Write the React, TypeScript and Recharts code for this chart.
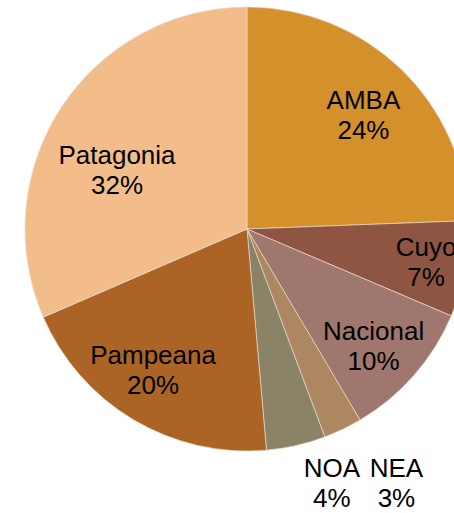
import React from "react";
import { PieChart, Pie, Cell } from "recharts";

const categories = ["AMBA", "Cuyo", "Nacional", "NEA", "NOA", "Pampeana", "Patagonia"];
const shares = [24.4, 7.0, 10.1, 2.8, 4.3, 19.9, 31.5];
const shareLabels = ["24%", "7%", "10%", "3%", "4%", "20%", "32%"];
const colors = ["#D4912B", "#8F5543", "#A0776E", "#AC8761", "#8A8367", "#AB6425", "#F3BD8B"];
// label placement: [radius factor of outer radius, angle tweak in degrees (clockwise)]
const labelPlacement: [number, number][] = [
  [0.734, 1.7],
  [0.82, 0],
  [0.775, 1.4],
  [1.328, -4.9],
  [1.206, -5.7],
  [0.765, 2.8],
  [0.643, -8.9],
];

const data = categories.map((name, i) => ({ name, value: shares[i] }));
const total = shares.reduce((a, b) => a + b, 0);

const CX = 247;
const CY = 229;
const R = 222;

const renderLabel = (props: any) => {
  const { index } = props;
  const before = shares.slice(0, index).reduce((a, b) => a + b, 0);
  const midFrac = (before + shares[index] / 2) / total;
  const [rf, dAng] = labelPlacement[index];
  const ang = ((midFrac * 360 + dAng) * Math.PI) / 180; // clockwise from top
  const x = CX + rf * R * Math.sin(ang);
  const y = CY - rf * R * Math.cos(ang);
  return (
    <text
      key={`lbl-${index}`}
      x={x}
      y={y}
      textAnchor="middle"
      fontFamily="'Liberation Sans', Arial, sans-serif"
      fontSize={26}
      fill="#000"
    >
      <tspan x={x} dy={-6}>{categories[index]}</tspan>
      <tspan x={x} dy={30}>{shareLabels[index]}</tspan>
    </text>
  );
};

export default function App() {
  return (
    <div style={{ position: "absolute", left: 0, top: 0, width: 454, height: 513, background: "#fff" }}>
      <PieChart width={454} height={513} margin={{ top: 0, right: 0, bottom: 0, left: 0 }}>
        <Pie
          data={data}
          dataKey="value"
          nameKey="name"
          cx={CX}
          cy={CY}
          outerRadius={R}
          innerRadius={0}
          startAngle={90}
          endAngle={-270}
          stroke="#E8D8C8"
          strokeWidth={0.7}
          label={renderLabel}
          labelLine={false}
          isAnimationActive={false}
        >
          {data.map((d, i) => (
            <Cell key={d.name} fill={colors[i]} />
          ))}
        </Pie>
      </PieChart>
    </div>
  );
}
